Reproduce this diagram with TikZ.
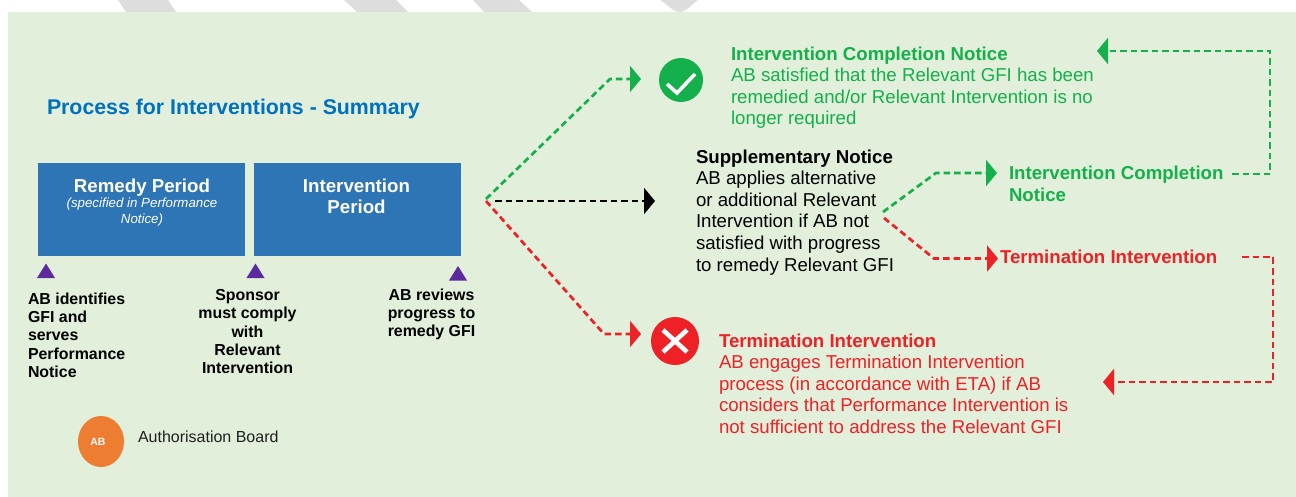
\documentclass[tikz,border=0pt]{standalone}
\usepackage{fontspec}
\setmainfont{Liberation Sans}
\usetikzlibrary{arrows.meta,shapes.geometric}
\definecolor{panel}{HTML}{E2EFDA}
\definecolor{barg}{HTML}{DDDDDD}
\definecolor{boxb}{HTML}{2E75B6}
\definecolor{titleb}{HTML}{0070C0}
\definecolor{okg}{HTML}{13B04B}
\definecolor{badr}{HTML}{EE2127}
\definecolor{purp}{HTML}{5B2A9E}
\definecolor{orng}{HTML}{ED7D31}
\newcommand{\fsz}[2]{\fontsize{#1}{#2}\selectfont}
\tikzset{
  x=1pt,y=-1pt,
  every node/.style={inner sep=0pt,outer sep=0pt},
  txt/.style={anchor=north west,align=left},
  body/.style={txt,font=\fsz{18.65}{21.6}},
  lab/.style={font=\bfseries\fsz{15.9}{18.2}},
  conn/.style={line width=2.7pt,dash pattern=on 6.5pt off 4pt},
  tipg/.style={-{Triangle[length=11pt,width=26pt,fill=okg]},okg,conn},
  tipr/.style={-{Triangle[length=11pt,width=26pt,fill=badr]},badr,conn},
  tipk/.style={-{Triangle[length=11pt,width=26pt,fill=black]},black,conn},
  period/.style={fill=boxb,minimum width=207pt,minimum height=93pt},
  tri/.style={fill=purp},
}
\begin{document}
\begin{tikzpicture}
\useasboundingbox (0,0) rectangle (1296,497);
% grey bars behind
\fill[barg] (118,0) -- (126,12) -- (176,12) -- (168,0) -- cycle;
\fill[barg] (344,0) -- (357,12) -- (408,12) -- (396,0) -- cycle;
\fill[barg] (473,0) -- (484,12) -- (532,12) -- (519,0) -- cycle;
\fill[barg] (660,0) -- (672,9) .. controls (677,13) and (683,13) .. (687,9) -- (698,0) -- cycle;
\fill[panel] (8,12) rectangle (1296,497);
% title
\node[anchor=base west,text=titleb,font=\bfseries\fsz{21.3}{24}] (title) at (47,114.5) {Process for Interventions - Summary};
% period boxes
\node[period] (remedy) at (141.5,209.5) {};
\node[period] (interv) at (357.5,209.5) {};
\node[anchor=base,text=white,font=\bfseries\fsz{18.7}{21}] (remedyt) at (142,192.5) {Remedy Period};
\node[anchor=north,align=center,text=white,font=\itshape\fsz{13.3}{15.5}] (remedys) at (142,198) {(specified in Performance\\Notice)};
\node[anchor=north,align=center,text=white,font=\bfseries\fsz{18.7}{21}] (intervt) at (356.5,178.5) {Intervention\\Period};
% triangles
\fill[tri] (37,278) -- (46,263.5) -- (55,278) -- cycle;
\fill[tri] (246.5,278) -- (255.5,263.5) -- (264.5,278) -- cycle;
\fill[tri] (449,280.5) -- (458,266) -- (467,280.5) -- cycle;
% labels under the boxes
\node[lab,anchor=north west,align=left] (l1) at (28,293) {AB identifies\\GFI and\\serves\\Performance\\Notice};
\node[lab,anchor=north,align=center] (l2) at (247.5,289.5) {Sponsor\\must comply\\with\\Relevant\\Intervention};
\node[lab,anchor=north,align=center] (l3) at (431.5,288.5) {AB reviews\\progress to\\remedy GFI};
% legend
\node[ellipse,fill=orng,minimum width=46pt,minimum height=51pt] (ab) at (101,441.5) {};
\node[text=white,font=\bfseries\fsz{10.5}{12}] (abt) at (98,441.5) {AB};
\node[anchor=base west,font=\fsz{16}{18},text=black!88] (abl) at (138,442.5) {Authorisation Board};
% outcome icons
\node[circle,fill=okg,minimum size=44pt] (ok) at (681,80) {};
\draw[white,line width=3.6pt] (667,84) -- (677,93) -- (695,74);
\node[circle,fill=badr,minimum size=48pt] (no) at (675,341) {};
\draw[white,line width=4.6pt] (663,330) -- (687,352) (687,330) -- (663,352);
% texts right
\node[body,text=okg] (tc) at (731,46.5) {\textbf{Intervention Completion Notice}\\AB satisfied that the Relevant GFI has been\\remedied and/or Relevant Intervention is no\\longer required};
\node[body,text=black] (ts) at (696,149.5) {\textbf{Supplementary Notice}\\AB applies alternative\\or additional Relevant\\Intervention if AB not\\satisfied with progress\\to remedy Relevant GFI};
\node[txt,text=okg,font=\bfseries\fsz{18.65}{22}] (ic) at (1009,165.5) {Intervention Completion\\Notice};
\node[txt,text=badr,font=\bfseries\fsz{18.65}{22}] (ti) at (1000,249.5) {Termination Intervention};
\node[body,text=badr] (tt) at (719,333.5) {\textbf{Termination Intervention}\\AB engages Termination Intervention\\process (in accordance with ETA) if AB\\considers that Performance Intervention is\\not sufficient to address the Relevant GFI};
% junctions
\coordinate (j) at (486,199);
\coordinate (j2) at (486,201);
\coordinate (j3) at (495,201);
\coordinate (g1) at (610,79);
\coordinate (g1e) at (641,79);
\coordinate (ke) at (655,201);
\coordinate (r1) at (604,334);
\coordinate (r1e) at (641,334);
\coordinate (s1) at (883,212);
\coordinate (s2) at (884,218);
\coordinate (g2) at (936,173);
\coordinate (g2e) at (997,173);
\coordinate (r2) at (934,258.5);
\coordinate (r2e) at (998,258.5);
\coordinate (g3) at (1232,174);
\coordinate (g3c) at (1270,174);
\coordinate (g3t) at (1270,51);
\coordinate (g3e) at (1097,51);
\coordinate (r3) at (1242,257);
\coordinate (r3c) at (1273,257);
\coordinate (r3b) at (1273,382);
\coordinate (r3e) at (1103,382);
% connectors
\draw[tipg] (j) -- (g1) -- (g1e);
\draw[tipk] (j3) -- (ke);
\draw[tipr] (j2) -- (r1) -- (r1e);
\draw[tipg] (s1) -- (g2) -- (g2e);
\draw[tipr] (s2) -- (r2) -- (r2e);
\draw[tipg] (g3) -- (g3c) -- (g3t) -- (g3e);
\draw[tipr] (r3) -- (r3c) -- (r3b) -- (r3e);
\end{tikzpicture}
\end{document}
